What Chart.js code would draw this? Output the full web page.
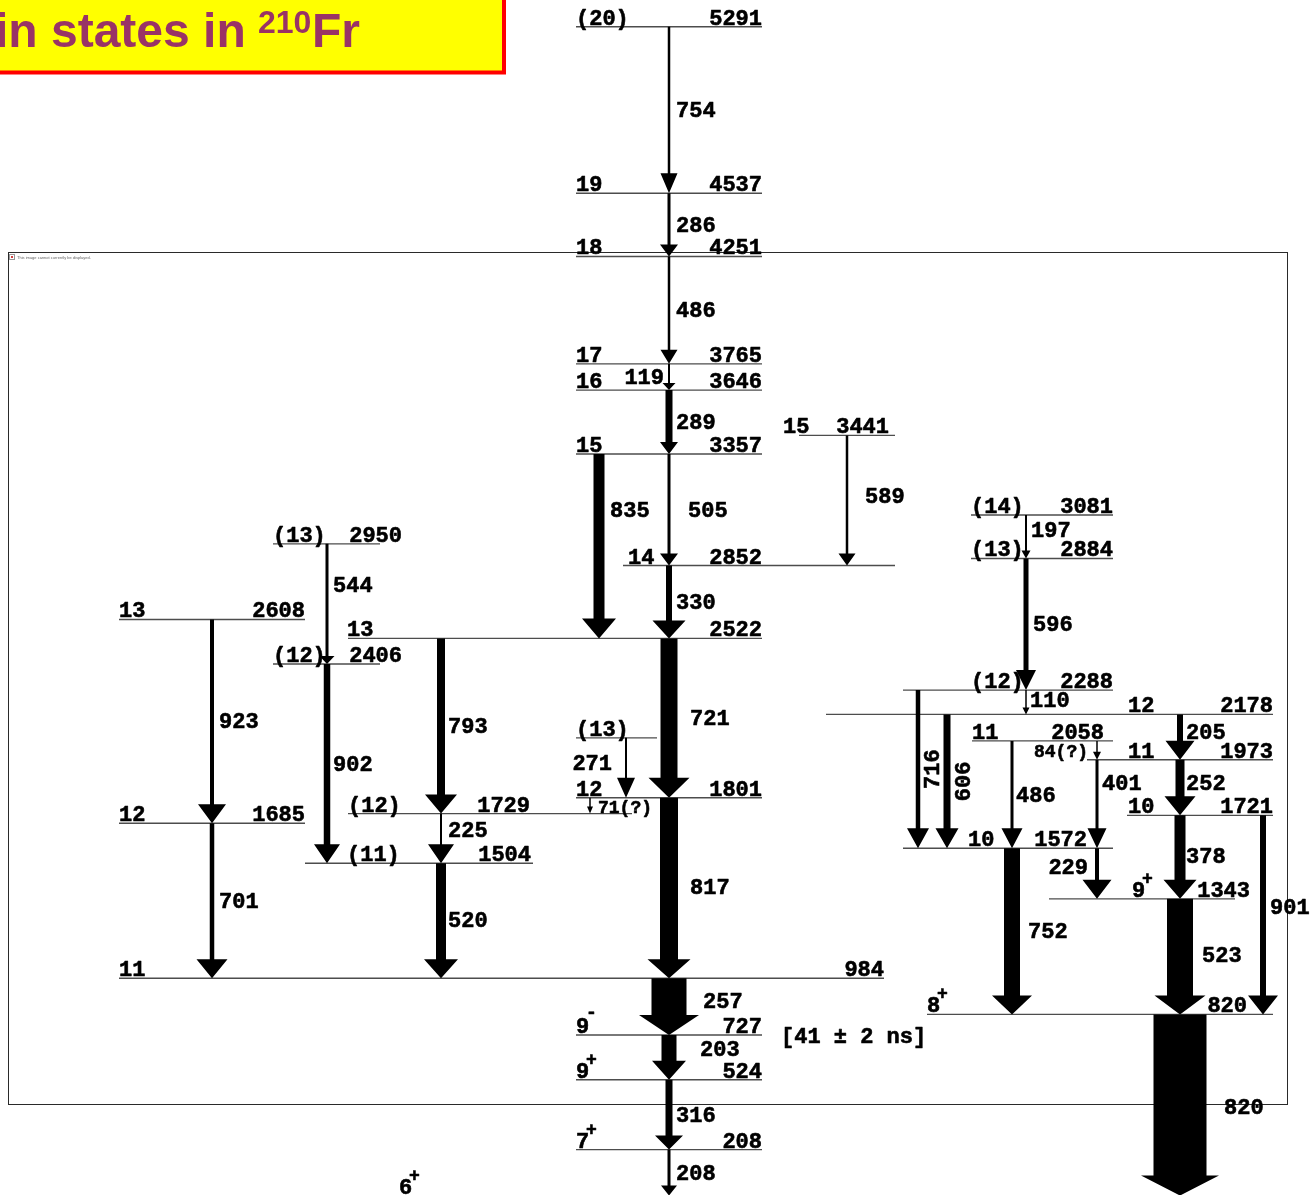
<!DOCTYPE html>
<html>
<head>
<meta charset="utf-8">
<title>Level scheme of 210Fr</title>
<script src="https://cdn.jsdelivr.net/npm/chart.js@4.4.1/dist/chart.umd.min.js"></script>
<style>
  html, body { margin: 0; padding: 0; background: #ffffff; overflow: hidden; }
  canvas { display: block; }
</style>
</head>
<body>
<canvas id="scheme" width="1314" height="1195"></canvas>
<script>
// ---------------- Level data (excitation energy in keV) ----------------
const levelEnergy = [5291, 4537, 4251, 3765, 3646, 3357, 3441, 2852, 2950, 2608, 2522, 2406, 2072, 1801, 1729, 1685, 1504, 984, 727, 524, 208, 0,
                     3081, 2884, 2288, 2178, 2058, 1973, 1721, 1572, 1343, 820];
const levelSpin = ['(20)', '19', '18', '17', '16', '15', '15', '14', '(13)', '13', '13', '(12)', '(13)', '12', '(12)', '12', '(11)', '11', '9', '9', '7', '6',
                   '(14)', '(13)', '(12)', '12', '11', '11', '10', '10', '9', '8'];
const levelParity = ['', '', '', '', '', '', '', '', '', '', '', '', '', '', '', '', '', '', '-', '+', '+', '+',
                     '', '', '', '', '', '', '', '', '+', '+'];
// energy printed at the level (blank where none is printed)
const levelEnergyText = ['5291', '4537', '4251', '3765', '3646', '3357', '3441', '2852', '2950', '2608', '2522', '2406', '', '1801', '1729', '1685', '1504', '984', '727', '524', '208', '',
                         '3081', '2884', '2288', '2178', '2058', '1973', '1721', '1572', '1343', '820'];

// ---------------- Gamma transitions ----------------
const gammaLabel = ['754', '286', '486', '119', '289', '505', '330', '721', '817', '257', '203', '316', '208',
                    '835', '589', '544', '902', '923', '701', '793', '225', '520', '271', '71(?)',
                    '197', '596', '110', '716', '606', '486', '84(?)', '401', '229', '205', '252', '378', '523', '752', '901', '820'];
const gammaFrom = [5291, 4537, 4251, 3765, 3646, 3357, 2852, 2522, 1801, 984, 727, 524, 208,
                   3357, 3441, 2950, 2406, 2608, 1685, 2522, 1729, 1504, 2072, 1801,
                   3081, 2884, 2288, 2288, 2178, 2058, 2058, 1973, 1572, 2178, 1973, 1721, 1343, 1572, 1721, 820];
const gammaTo = [4537, 4251, 3765, 3646, 3357, 2852, 2522, 1801, 984, 727, 524, 208, 0,
                 2522, 2852, 2406, 1504, 1685, 984, 1729, 1504, 984, 1801, 1729,
                 2884, 2288, 2178, 1572, 1572, 1572, 1973, 1572, 1343, 1973, 1721, 1343, 820, 820, 820, 0];
// relative intensity, drawn as the arrow shaft width
const gammaIntensity = [2.5, 3, 2.5, 2, 7, 3, 6, 17, 18, 35, 15, 7, 3,
                        11, 2.5, 3, 6.5, 4, 4.5, 8, 2, 10, 2, 1.5,
                        2, 5, 1.5, 4.5, 7, 3, 1.5, 3, 4, 6, 9, 11, 26, 16, 6, 53];

// isomer half-life note attached to the 727 keV level
const isomerLevel = 727;
const isomerNote = '[41 \u00b1 2 ns]';

// ---------------- Drawing layout ----------------
// horizontal extent of each level line on the column axis
const levelSpan = [[576, 762], [576, 762], [576, 762], [576, 762], [576, 762], [576, 762], [799, 895], [623, 895], [273, 380], [119, 305], [348, 762], [273, 380],
                   [576, 657], [576, 762], [348, 632], [119, 305], [305, 533], [119, 884], [576, 762], [576, 762], [576, 762], null,
                   [971, 1113], [971, 1113], [903, 1113], [826, 1273], [972, 1113], [1087, 1273], [1127, 1273], [903, 1113], [1049, 1235], [927, 1273]];
// [spin label left edge, energy label right edge]
const levelTextAt = [[576, 762], [576, 762], [576, 762], [576, 762], [576, 762], [576, 762], [783, 889], [628, 762], [273, 402], [119, 305], [347, 762], [273, 402],
                     [576, 0], [576, 762], [348, 530], [119, 305], [347, 531], [119, 884], [576, 762], [576, 762], [576, 762], [399, 0],
                     [971, 1113], [971, 1113], [971, 1113], [1128, 1273], [972, 1104], [1128, 1273], [1128, 1273], [968, 1087], [1132, 1250], [927, 1247]];
// column of each arrow
const gammaColumn = [669, 669, 669, 669, 669, 669, 669, 669, 669, 669, 669, 669, 669,
                     599, 847, 327, 327, 212, 212, 441, 441, 441, 626, 590,
                     1026, 1026, 1026, 918, 947, 1012, 1097, 1097, 1097, 1180, 1180, 1180, 1180, 1012, 1263, 1180];
// arrow head [width, height] in px
const gammaHead = [[17, 20], [18, 12], [17, 14], [13, 7], [18, 12], [18, 12], [33, 18], [41, 20], [43, 19], [60, 20], [34, 19], [28, 14], [16, 10],
                   [34, 20], [17, 12], [15, 8], [26, 19], [28, 19], [31, 19], [32, 19], [26, 19], [34, 19], [18, 20], [6, 7],
                   [9, 8], [20, 20], [7, 7], [22, 20], [23, 20], [21, 20], [8, 8], [19, 20], [29, 19], [29, 19], [31, 19], [33, 19], [51, 19], [40, 19], [30, 19], [78, 20]];
// label placement: [dx from arrow, dy from arrow middle, mode]  l = left-aligned, r = right-aligned, v = vertical
const gammaLabelAt = [[7, 0, 'l'], [7, 0, 'l'], [7, 0, 'l'], [-5, 0, 'r'], [7, 0, 'l'], [19, 0, 'l'], [7, 0, 'l'], [21, 0, 'l'], [21, -1, 'l'], [34, -6, 'l'], [31, -8, 'l'], [7, 0, 'l'], [7, 0, 'l'],
                      [11, -36, 'l'], [18, -4, 'l'], [6, -19, 'l'], [6, 0, 'l'], [7, 0, 'l'], [7, 0, 'l'], [7, 0, 'l'], [7, -8, 'l'], [7, -1, 'l'], [-14, -5, 'r'], [8, 0, 'l'],
                      [5, -7, 'l'], [7, 0, 'l'], [4, -2, 'l'], [14, 0, 'v'], [16, 0, 'v'], [4, 0, 'l'], [-9, 0, 'r'], [5, -21, 'l'], [-9, -7, 'r'], [6, -5, 'l'], [6, -5, 'l'], [6, -1, 'l'], [22, -2, 'l'], [16, 0, 'l'], [7, -8, 'l'], [44, 2, 'l']];

const MONO = '"Liberation Mono", "Courier New", monospace';
const LABEL_FONT = 'bold 22px ' + MONO;
const SMALL_FONT = 'bold 18px ' + MONO;
const INK = '#000000';

// filled text with a thin outline for a heavier stroke weight
function inkText(ctx, text, x, y) {
  ctx.fillText(text, x, y);
  ctx.strokeText(text, x, y);
}

// ---------------- Plugin: arrows, labels, frame and title ----------------
const schemePlugin = {
  id: 'levelScheme',
  beforeDatasetsDraw(chart) {
    const ctx = chart.ctx;
    ctx.save();
    // slide frame behind the scheme
    ctx.strokeStyle = '#2a2a2a';
    ctx.lineWidth = 1;
    ctx.strokeRect(8.5, 252.5, 1279, 852);
    // placeholder icon + caption
    ctx.strokeStyle = '#999999';
    ctx.strokeRect(9.5, 254.5, 5, 5);
    ctx.fillStyle = '#d04040';
    ctx.fillRect(11, 256, 2, 2);
    ctx.fillStyle = '#666666';
    ctx.font = '4px "Liberation Sans", Arial, sans-serif';
    ctx.textBaseline = 'alphabetic';
    ctx.textAlign = 'left';
    ctx.fillText('This image cannot currently be displayed.', 17, 258.5);
    ctx.restore();
  },
  afterDatasetsDraw(chart) {
    const ctx = chart.ctx;
    const xs = chart.scales.x, ys = chart.scales.y;
    ctx.save();
    ctx.fillStyle = INK;
    ctx.strokeStyle = INK;
    ctx.lineWidth = 0.6;
    ctx.lineJoin = 'round';

    // gamma-ray arrows
    gammaLabel.forEach((lab, i) => {
      const cx = xs.getPixelForValue(gammaColumn[i]);
      const yTop = ys.getPixelForValue(gammaFrom[i]);
      const yBot = ys.getPixelForValue(gammaTo[i]);
      const w = gammaIntensity[i];
      const [hw, hh] = gammaHead[i];
      ctx.beginPath();
      ctx.moveTo(cx - w / 2, yTop);
      ctx.lineTo(cx + w / 2, yTop);
      ctx.lineTo(cx + w / 2, yBot - hh);
      ctx.lineTo(cx + hw / 2, yBot - hh);
      ctx.lineTo(cx, yBot);
      ctx.lineTo(cx - hw / 2, yBot - hh);
      ctx.lineTo(cx - w / 2, yBot - hh);
      ctx.closePath();
      ctx.fill();
    });

    // gamma-ray energy labels
    ctx.textBaseline = 'alphabetic';
    gammaLabel.forEach((lab, i) => {
      const cx = xs.getPixelForValue(gammaColumn[i]);
      const mid = (ys.getPixelForValue(gammaFrom[i]) + ys.getPixelForValue(gammaTo[i])) / 2;
      const [dx, dy, mode] = gammaLabelAt[i];
      ctx.font = lab.indexOf('?') >= 0 ? SMALL_FONT : LABEL_FONT;
      if (mode === 'v') {
        ctx.save();
        ctx.translate(cx + dx, mid + dy);
        ctx.rotate(-Math.PI / 2);
        ctx.textAlign = 'center';
        inkText(ctx, lab, 0, 7);
        ctx.restore();
      } else {
        ctx.textAlign = mode === 'r' ? 'right' : 'left';
        inkText(ctx, lab, cx + dx, mid + dy + 7);
      }
    });

    // level labels: spin(parity) on the left, energy on the right
    levelEnergy.forEach((e, i) => {
      const base = ys.getPixelForValue(e) - 2;
      const [sx, ex] = levelTextAt[i];
      ctx.font = LABEL_FONT;
      ctx.textAlign = 'left';
      const spinX = xs.getPixelForValue(sx);
      inkText(ctx, levelSpin[i], spinX, base);
      if (levelParity[i]) {
        ctx.font = SMALL_FONT;
        inkText(ctx, levelParity[i], spinX + 10, base - (levelParity[i] === '-' ? 15 : 13));
      }
      if (levelEnergyText[i]) {
        ctx.font = LABEL_FONT;
        ctx.textAlign = 'right';
        inkText(ctx, levelEnergyText[i], xs.getPixelForValue(ex), base);
      }
    });

    // isomer half-life
    ctx.font = LABEL_FONT;
    ctx.textAlign = 'left';
    inkText(ctx, isomerNote, xs.getPixelForValue(781), ys.getPixelForValue(isomerLevel) + 8);
    ctx.restore();
  },
  afterDraw(chart) {
    const ctx = chart.ctx;
    ctx.save();
    // title banner
    ctx.fillStyle = '#ffff00';
    ctx.fillRect(-10, -10, 514, 82);
    ctx.strokeStyle = '#ff0000';
    ctx.lineWidth = 4;
    ctx.strokeRect(-10, -10, 514, 82.5);
    ctx.fillStyle = '#993366';
    ctx.textAlign = 'left';
    ctx.textBaseline = 'alphabetic';
    ctx.font = 'bold 48px "Liberation Sans", Arial, sans-serif';
    ctx.fillText('in states in', -5, 47);
    ctx.font = 'bold 32px "Liberation Sans", Arial, sans-serif';
    ctx.fillText('210', 258, 33);
    ctx.font = 'bold 48px "Liberation Sans", Arial, sans-serif';
    ctx.fillText('Fr', 312, 47);
    ctx.restore();
  }
};

// ---------------- Level lines as line datasets ----------------
const levelDatasets = [];
levelEnergy.forEach((e, i) => {
  const span = levelSpan[i];
  if (!span) return;
  levelDatasets.push({
    label: 'level ' + e,
    data: [{ x: span[0], y: e }, { x: span[1], y: e }],
    showLine: true,
    borderColor: '#4d4d4d',
    borderWidth: 1.4,
    pointRadius: 0,
    fill: false
  });
});

new Chart(document.getElementById('scheme'), {
  type: 'scatter',
  data: { datasets: levelDatasets },
  options: {
    responsive: false,
    animation: false,
    devicePixelRatio: 1,
    events: [],
    layout: { padding: 0 },
    plugins: { legend: { display: false }, tooltip: { enabled: false }, title: { display: false } },
    scales: {
      x: { type: 'linear', min: 0, max: 1314, display: false },
      y: { type: 'linear', min: 2.5, max: 5412, display: false }
    }
  },
  plugins: [schemePlugin]
});
</script>
</body>
</html>
